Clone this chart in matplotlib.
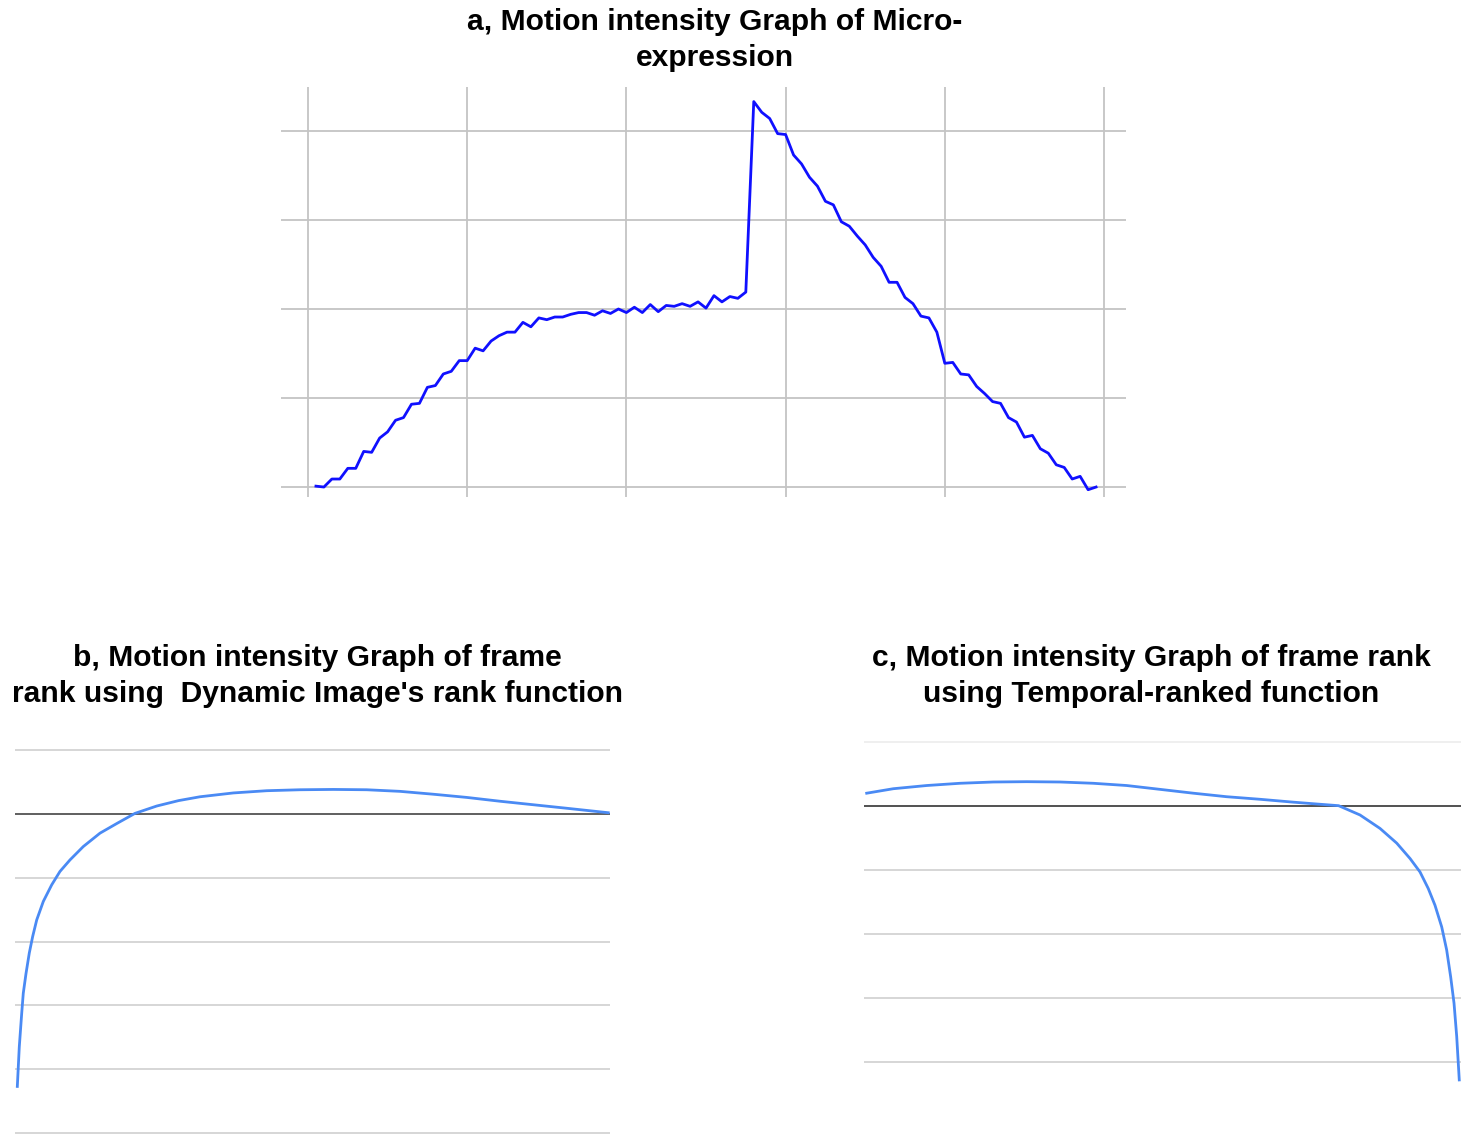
import matplotlib
matplotlib.use("Agg")
import matplotlib.pyplot as plt

W, H = 1469, 1137
DPI = 100

# ---- panel a: motion intensity per frame (frames 1..99), gridline units ----
frames_a = list(range(1, 100))
intensity_a = [
    0.01, 0.00, 0.09, 0.09, 0.21, 0.21, 0.40, 0.39, 0.55, 0.62,
    0.75, 0.78, 0.93, 0.94, 1.12, 1.14, 1.27, 1.30, 1.42, 1.42,
    1.56, 1.53, 1.64, 1.70, 1.74, 1.74, 1.85, 1.80, 1.90, 1.88,
    1.91, 1.91, 1.94, 1.96, 1.96, 1.93, 1.98, 1.95, 2.00, 1.96,
    2.02, 1.96, 2.05, 1.97, 2.04, 2.03, 2.06, 2.03, 2.08, 2.01,
    2.15, 2.08, 2.14, 2.12, 2.19,
    4.33, 4.21, 4.14, 3.97, 3.96, 3.73, 3.63, 3.48, 3.38, 3.21,
    3.17, 2.98, 2.93, 2.82, 2.72, 2.58, 2.48, 2.30, 2.30, 2.13,
    2.06, 1.92, 1.90, 1.74, 1.39, 1.40, 1.27, 1.26, 1.13, 1.05,
    0.96, 0.94, 0.78, 0.73, 0.56, 0.58, 0.43, 0.38, 0.25, 0.22,
    0.09, 0.12, -0.03, 0.00,
]
xticks_a = [0, 20, 40, 60, 80, 100]
yticks_a = [0, 1, 2, 3, 4]

# ---- panel b: Dynamic Image rank function ----
pos_b = [0.39, 0.72, 1.13, 1.39, 1.85, 2.40, 2.97, 3.65, 4.76, 6.17,
         7.56, 9.24, 11.48, 14.29, 17.09, 20.17, 23.82, 27.5, 31.09, 36.69,
         42.30, 47.90, 53.50, 59.11, 64.71, 70.30, 75.91, 81.51, 87.11, 92.72, 99.71]
val_b = [-4.27, -3.65, -3.12, -2.81, -2.50, -2.18, -1.92, -1.66, -1.37, -1.11,
         -0.90, -0.72, -0.51, -0.30, -0.15, 0.01, 0.125, 0.21, 0.27, 0.33,
         0.365, 0.38, 0.385, 0.38, 0.355, 0.31, 0.26, 0.20, 0.145, 0.09, 0.02]
grid_b = [1, -1, -2, -3, -4, -5]

# ---- panel c: Temporal-ranked function ----
pos_c = [0.45, 4.91, 10.50, 16.08, 21.66, 27.25, 32.83, 38.41, 44.00, 49.58,
         55.16, 60.75, 66.33, 71.91, 76.0, 79.5, 83.08, 86.43, 89.23, 91.46,
         93.13, 94.52, 95.64, 96.77, 97.60, 98.27, 98.83, 99.28, 99.71]
val_c = [0.20, 0.27, 0.32, 0.355, 0.375, 0.38, 0.375, 0.355, 0.32, 0.26,
         0.20, 0.145, 0.105, 0.06, 0.03, 0.005, -0.14, -0.35, -0.58, -0.82,
         -1.03, -1.29, -1.55, -1.89, -2.25, -2.67, -3.08, -3.60, -4.28]
grid_c = [-1, -2, -3, -4]

plt.rcParams['font.family'] = ['Liberation Sans', 'DejaVu Sans']
TITLE_FS = 21.6

fig = plt.figure(figsize=(W / DPI, H / DPI), dpi=DPI)


def add_axes_px(x0, y0, x1, y1):
    return fig.add_axes([x0 / W, 1 - y1 / H, (x1 - x0) / W, (y1 - y0) / H])


def clean(ax):
    for s in ax.spines.values():
        s.set_visible(False)
    ax.tick_params(left=False, bottom=False, labelleft=False, labelbottom=False)


def title_line(x, y, s):
    fig.text(x / W, 1 - y / H, s, ha='center', va='center',
             fontsize=TITLE_FS, fontweight='bold')


# panel a
axa = add_axes_px(281, 87, 1126, 497)
axa.plot(frames_a, intensity_a, color='#1010ff', lw=2.0, zorder=3)
axa.set_xlim(-3.39, 102.76)
axa.set_ylim(-0.112, 4.494)
axa.set_xticks(xticks_a)
axa.set_yticks(yticks_a)
axa.grid(True, color='#c4c4c4', lw=1.3)
clean(axa)
title_line(715, 22, "a, Motion intensity Graph of Micro-")
title_line(715, 58, "expression")

# panel b
axb = add_axes_px(15, 745, 610, 1138)
for g in grid_b:
    axb.axhline(g, color='#d0d0d0', lw=1.2, zorder=1)
axb.axhline(0, color='#444444', lw=1.2, zorder=2)
axb.plot(pos_b, val_b, color='#4a8af4', lw=2.0, zorder=3)
axb.set_xlim(0, 100)
axb.set_ylim((814 - 1138) / 63.8, (814 - 745) / 63.8)
clean(axb)
title_line(317, 658, "b, Motion intensity Graph of frame")
title_line(317, 694, "rank using  Dynamic Image's rank function")

# panel c
axc = add_axes_px(864, 738, 1461, 1086)
axc.axhline(1, color='#ececec', lw=1.2, zorder=1)
for g in grid_c:
    axc.axhline(g, color='#d0d0d0', lw=1.2, zorder=1)
axc.axhline(0, color='#333333', lw=1.2, zorder=2)
axc.plot(pos_c, val_c, color='#4a8af4', lw=2.0, zorder=3)
axc.set_xlim(0, 100)
axc.set_ylim((806 - 1086) / 64.0, (806 - 738) / 64.0)
clean(axc)
title_line(1151, 658, "c, Motion intensity Graph of frame rank")
title_line(1151, 694, "using Temporal-ranked function")

fig.savefig("out.png", dpi=DPI)
